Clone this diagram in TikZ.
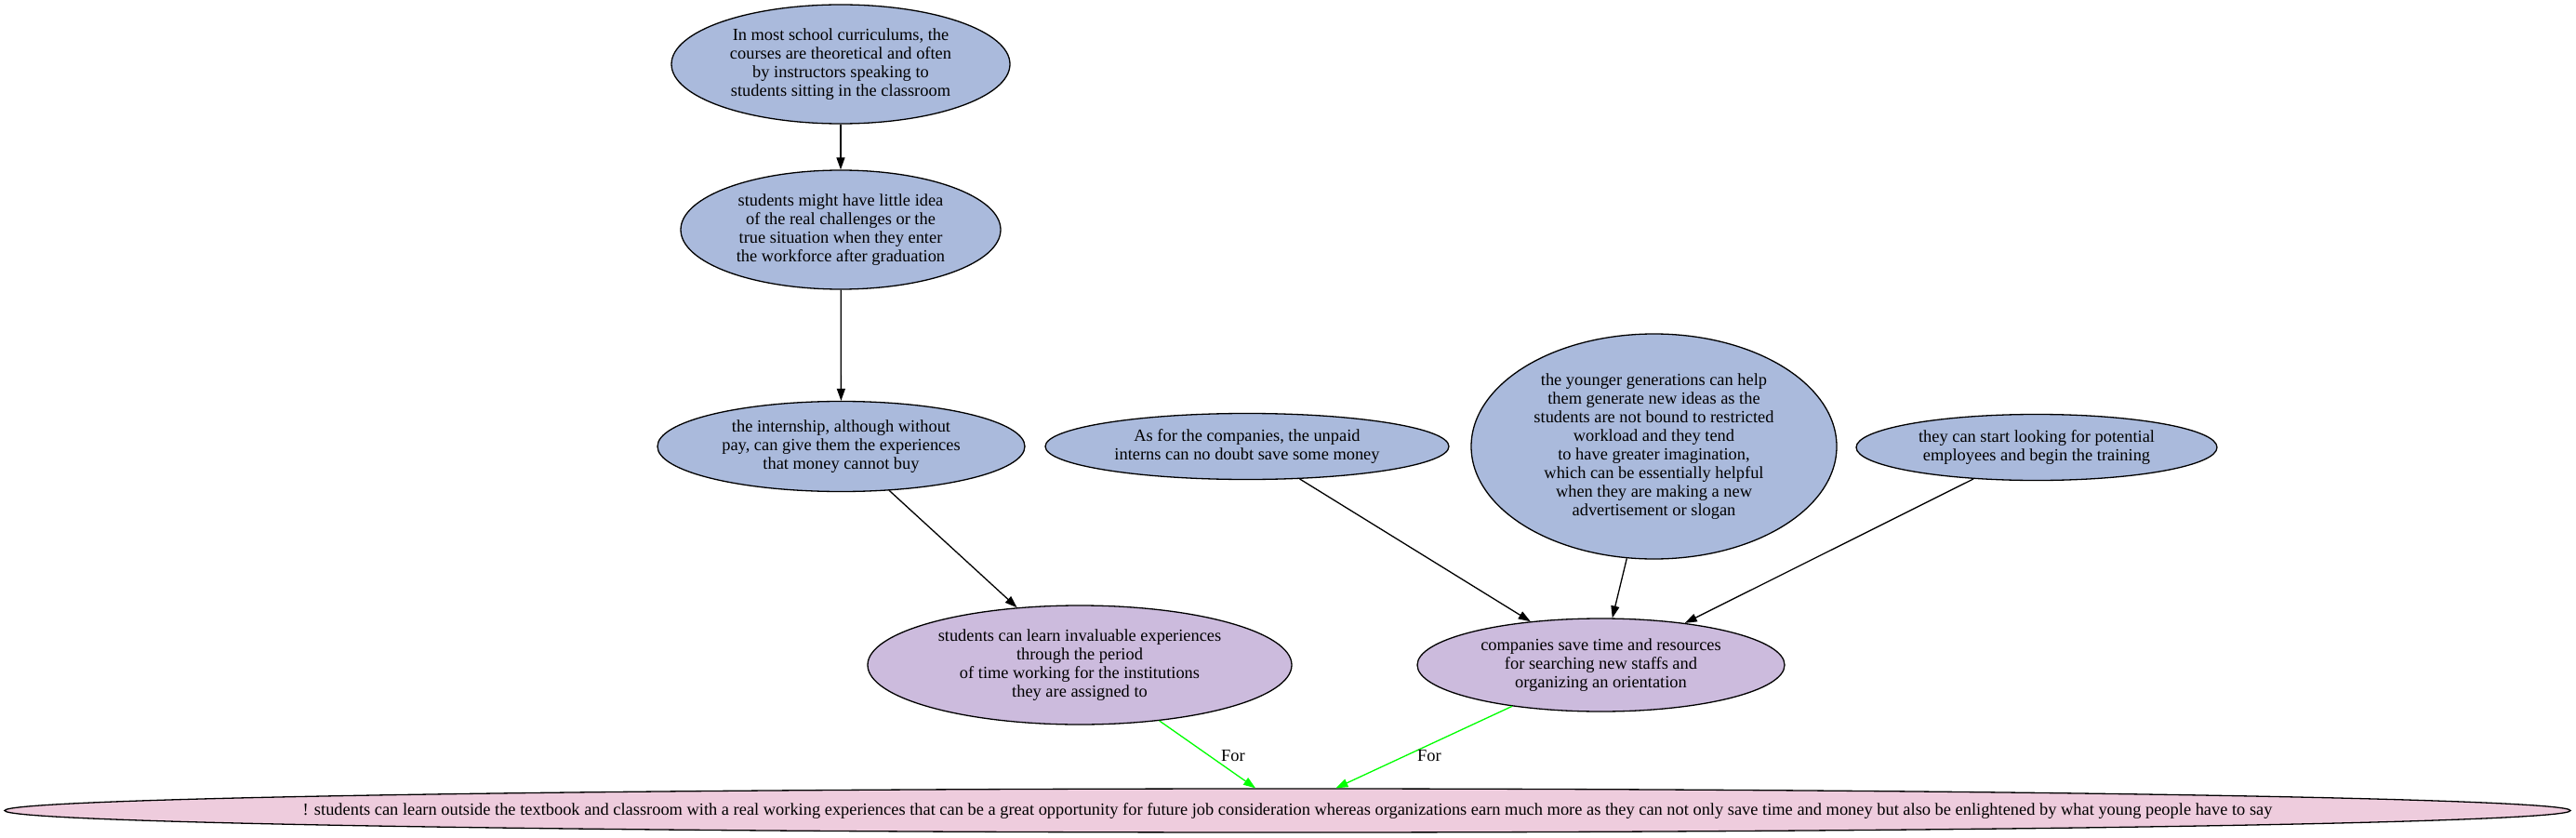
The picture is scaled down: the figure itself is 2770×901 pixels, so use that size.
\documentclass[tikz,border=0pt]{standalone}
\usepackage{fontspec}
\setmainfont{Liberation Serif}
\usetikzlibrary{shapes.geometric,arrows.meta}
\definecolor{nodeblue}{RGB}{170,186,220}
\definecolor{nodelilac}{RGB}{204,187,221}
\definecolor{nodepink}{RGB}{238,204,221}
\definecolor{forgreen}{RGB}{0,255,0}
\newcommand{\gvfont}{\fontsize{18.4}{20}\selectfont}
\tikzset{
  gvnode/.style={ellipse, draw=black, line width=1.3pt, inner sep=0pt, align=center, font=\gvfont},
  bluenode/.style={gvnode, fill=nodeblue},
  lilacnode/.style={gvnode, fill=nodelilac},
  pinknode/.style={gvnode, fill=nodepink},
  gvedge/.style={draw=black, line width=1.3pt, -{Triangle[length=13pt,width=9pt]}},
  foredge/.style={draw=forgreen, line width=1.3pt, -{Triangle[length=13pt,width=9pt]}},
  forlabel/.style={font=\gvfont, inner sep=0pt}
}
\begin{document}
\begin{tikzpicture}[x=1pt,y=-1pt]
\useasboundingbox (0,0) rectangle (2770,901);
\node[bluenode, minimum width=364pt, minimum height=128pt] (a) at (904,69)
  {In most school curriculums, the\\courses are theoretical and often\\by instructors speaking to\\students sitting in the classroom};
\node[bluenode, minimum width=344pt, minimum height=128pt] (b) at (904,247)
  {students might have little idea\\of the real challenges or the\\true situation when they enter\\the workforce after graduation};
\node[bluenode, minimum width=395pt, minimum height=97pt] (c) at (904.5,480)
  {the internship, although without\\pay, can give them the experiences\\that money cannot buy};
\node[bluenode, minimum width=434pt, minimum height=71pt] (d) at (1341,480)
  {As for the companies, the unpaid\\interns can no doubt save some money};
\node[bluenode, minimum width=393pt, minimum height=242pt] (e) at (1778.5,480)
  {the younger generations can help\\them generate new ideas as the\\students are not bound to restricted\\workload and they tend\\to have greater imagination,\\which can be essentially helpful\\when they are making a new\\advertisement or slogan};
\node[bluenode, minimum width=388pt, minimum height=71pt] (f) at (2190,481)
  {they can start looking for potential\\employees and begin the training};
\node[lilacnode, minimum width=456pt, minimum height=128pt] (g) at (1161,715)
  {students can learn invaluable experiences\\through the period\\of time working for the institutions\\they are assigned to};
\node[lilacnode, minimum width=395pt, minimum height=100pt] (h) at (1721.5,715)
  {companies save time and resources\\for searching new staffs and\\organizing an orientation};
\node[pinknode, minimum width=2759pt, minimum height=47pt] (i) at (1384.5,871.5)
  {\makebox[0pt][c]{! students can learn outside the textbook and classroom with a real working experiences that can be a great opportunity for future job consideration whereas organizations earn much more as they can not only save time and money but also be enlightened by what young people have to say}};
\draw[gvedge] (a) -- (b);
\draw[gvedge] (b) -- (c);
\draw[gvedge] (c) -- (g);
\draw[gvedge] (d) -- (h);
\draw[gvedge] (e) -- (h);
\draw[gvedge] (f) -- (h);
\draw[foredge] (g) -- (i);
\draw[foredge] (h) -- (i);
\node[forlabel] (l1) at (1326,813) {For};
\node[forlabel] (l2) at (1537,813) {For};
\end{tikzpicture}
\end{document}
